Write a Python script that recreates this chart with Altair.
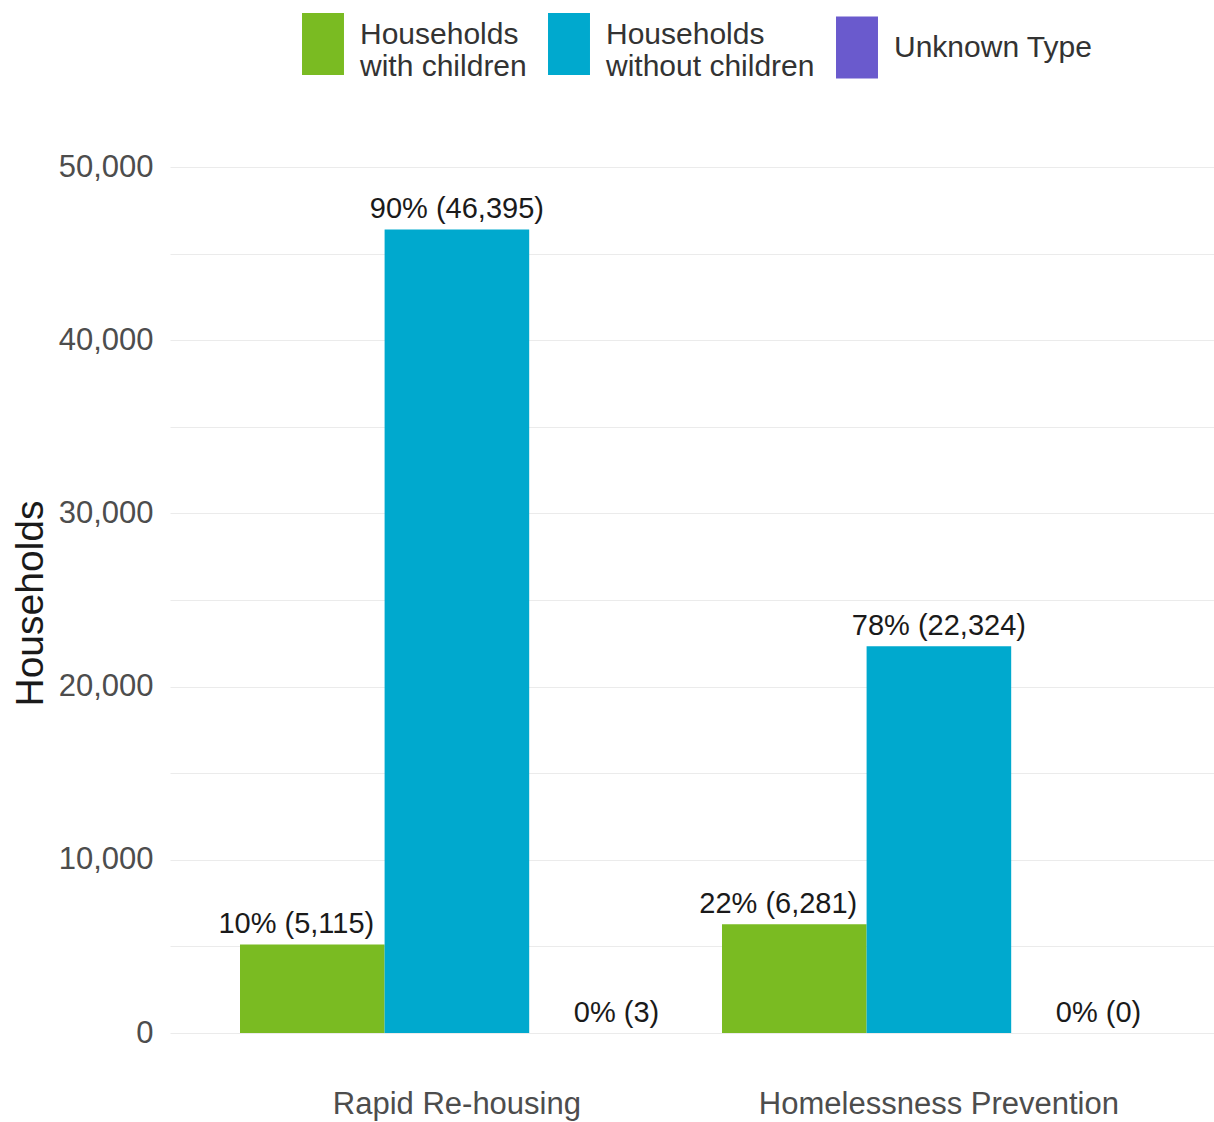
import altair as alt
import pandas as pd

# Households served, by program and household type
programs = ["Rapid Re-housing", "Homelessness Prevention"]
household_types = ["Households with children", "Households without children", "Unknown Type"]
rrh_counts = [5115, 46395, 3]
hp_counts = [6281, 22324, 0]
type_colors = ["#7ABB22", "#00A9CE", "#6A5ACD"]
y_ticks = list(range(0, 50001, 5000))
# value labels are dodged a little narrower than the bars
label_nudge = [-16, 0, 15]

rows = []
for program, counts in zip(programs, [rrh_counts, hp_counts]):
    total = sum(counts)
    for htype, n in zip(household_types, counts):
        pct = round(100 * n / total)
        rows.append({
            "program": program,
            "type": htype,
            "households": n,
            "label": f"{pct}% ({n:,})",
        })
df = pd.DataFrame(rows)

FONT = "Liberation Sans"

x_enc = alt.X(
    "program:N",
    sort=programs,
    title=None,
    scale=alt.Scale(paddingInner=0.1, paddingOuter=0.133, align=0.546),
    axis=alt.Axis(
        labelFontSize=31, labelColor="#4d4d4d", labelFont=FONT,
        labelPadding=56, labelLimit=0, ticks=False, tickSize=0, domain=False,
        labelAngle=0, grid=False,
    ),
)
xo_enc = alt.XOffset(
    "type:N", sort=household_types,
    scale=alt.Scale(paddingInner=0, paddingOuter=0),
)
y_enc = alt.Y(
    "households:Q",
    scale=alt.Scale(domain=[0, 50000], nice=False, zero=True),
    axis=alt.Axis(
        values=y_ticks,
        labelExpr="datum.value % 10000 == 0 ? format(datum.value, ',') : ''",
        labelFontSize=31, labelColor="#4d4d4d", labelFont=FONT,
        labelPadding=17, labelOverlap=False,
        ticks=False, tickSize=0, domain=False,
        grid=True, gridColor="#ebebeb", gridWidth=1.2,
        title="Households", titleFontSize=39, titleFont=FONT,
        titleColor="#1a1a1a", titleFontWeight="normal",
        titleAngle=270, titleBaseline="middle", titleAlign="center",
        titleX=-140, titleY=436,
    ),
)

bars = alt.Chart(df).mark_bar().encode(
    x=x_enc,
    xOffset=xo_enc,
    y=y_enc,
    color=alt.Color(
        "type:N",
        sort=household_types,
        scale=alt.Scale(domain=household_types, range=type_colors),
        legend=alt.Legend(
            title=None,
            orient="none",
            direction="horizontal",
            legendX=122,
            legendY=-154,
            padding=0,
            symbolType="M-0.677,-1L0.677,-1L0.677,1L-0.677,1Z",
            symbolSize=3844,
            symbolStrokeWidth=0,
            symbolOpacity=1,
            labelFontSize=30,
            labelFont=FONT,
            labelColor="#333333",
            labelOffset=6,
            labelLimit=400,
            labelBaseline=alt.ExprRef(
                "datum.value == 'Unknown Type' ? 'middle' : 'alphabetic'"
            ),
            columnPadding=11,
            labelExpr="datum.label == 'Unknown Type' ? datum.label : "
                      "split(replace(datum.label, 'Households ', 'Households|'), '|')",
        ),
    ),
)

label_layers = [
    alt.Chart(df).transform_filter(alt.datum.type == htype).mark_text(
        baseline="middle", align="center", dy=-20, dx=nudge,
        fontSize=29, font=FONT, color="#1a1a1a",
    ).encode(
        x=alt.X("program:N", sort=programs),
        xOffset=alt.XOffset("type:N", sort=household_types),
        y=alt.Y("households:Q"),
        text="label:N",
    )
    for htype, nudge in zip(household_types, label_nudge)
]

chart = (
    alt.layer(bars, *label_layers)
    .properties(
        width=1044,
        height=866,
        autosize=alt.AutoSizeParams(type="none"),
        padding={"left": 170, "top": 167, "right": 0, "bottom": 89},
        background="white",
    )
    .configure_view(stroke=None)
)

chart.save("out.html", embed_options={"renderer": "svg", "actions": False})
